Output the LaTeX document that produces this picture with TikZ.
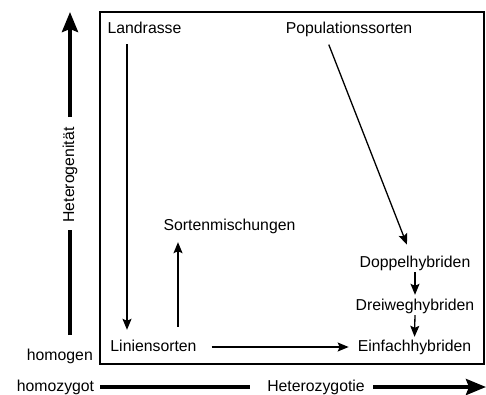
\documentclass[tikz,border=0pt]{standalone}
\usepackage{fontspec}
\setmainfont{Liberation Sans}
\usetikzlibrary{arrows.meta}
\begin{document}
\begin{tikzpicture}[x=1pt,y=-1pt,
  lbl/.style={inner sep=0pt,font=\fontsize{15.8}{18}\selectfont,text height=11pt,text depth=3pt},
  arr/.style={line width=1.3pt,-{Stealth[length=11pt,width=9pt,inset=2pt]}},
  bar/.style={line width=3.8pt},
  bigarr/.style={line width=3.8pt,-{Stealth[length=20pt,width=16pt,inset=3pt]}}]
\useasboundingbox (0,0) rectangle (486,394);
% frame
\draw[line width=1.2pt] (100,12) rectangle (484,364);
% nodes
\node[lbl] (land) at (144.5,29) {Landrasse};
\node[lbl] (pop) at (349,29) {Populationssorten};
\node[lbl] (mix) at (229.5,226) {Sortenmischungen};
\node[lbl] (dop) at (415,263) {Doppelhybriden};
\node[lbl] (drei) at (415,306) {Dreiweghybriden};
\node[lbl] (einf) at (414.5,347) {Einfachhybriden};
\node[lbl] (lin) at (153.5,347) {Liniensorten};
% axis labels
\node[lbl,anchor=east] (homogen) at (93,356) {homogen};
\node[lbl] (homozyg) at (55.5,387) {homozygot};
\node[lbl] (hetz) at (316,387) {Heterozygotie};
\node[lbl,rotate=90] (hetg) at (70,175) {Heterogenität};
% arrows
\draw[arr,shorten <=8pt,shorten >=10pt] (land.south -| 127,0) -- (lin.north -| 127,0);
\draw[arr,shorten <=13pt,shorten >=9pt] (lin.north -| 178,0) -- (mix.south -| 178,0);
\draw[arr,shorten <=15pt,shorten >=9pt] (lin.east) -- (einf.west);
\draw[arr,shorten <=9pt,shorten >=12pt] (pop.south -| 325.5,0) -- (dop.north -| 411.3,0);
\draw[arr,shorten <=2pt,shorten >=4pt] (dop.south) -- (drei.north);
\draw[arr,shorten <=2pt,shorten >=3pt] (drei.south) -- (einf.north);
% axes
\coordinate (v0) at (70,335);
\coordinate (v1) at (70,230);
\coordinate (v2) at (70,117);
\coordinate (v3) at (70,12);
\draw[bar] (v0) -- (v1);
\draw[bigarr] (v2) -- (v3);
\coordinate (h0) at (100,387);
\coordinate (h1) at (250,387);
\coordinate (h2) at (373,387);
\coordinate (h3) at (486,387);
\draw[bar] (h0) -- (h1);
\draw[bigarr] (h2) -- (h3);
\end{tikzpicture}
\end{document}
